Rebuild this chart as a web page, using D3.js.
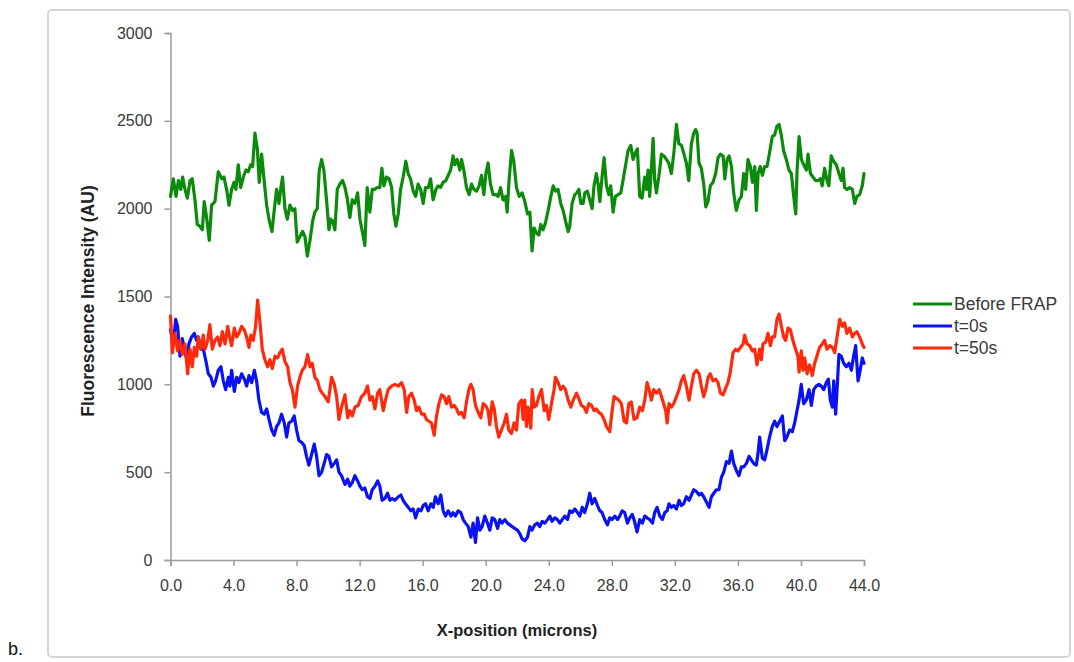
<!DOCTYPE html>
<html>
<head>
<meta charset="utf-8">
<script src="https://cdn.jsdelivr.net/npm/d3@7/dist/d3.min.js"></script>
<style>
  html, body { margin: 0; padding: 0; background: #ffffff; }
  svg { display: block; }
  text { font-family: "Liberation Sans", Arial, sans-serif; fill: #3a3a3a; }
</style>
</head>
<body>
<svg id="chart" width="1074" height="662"></svg>
<script>
// Fluorescence intensity profiles along the bleached line (FRAP experiment)

const seriesNames = ["Before FRAP", "t=0s", "t=50s"];
const seriesColors = ["#0b8a0b", "#0a12f2", "#ff2a0c"];

const xTicks = [0, 4, 8, 12, 16, 20, 24, 28, 32, 36, 40, 44];
const yTicks = [0, 500, 1000, 1500, 2000, 2500, 3000];

// Before FRAP
const beforeX = [
  0.0, 0.18, 0.35, 0.5, 0.65, 0.77, 0.92, 1.07, 1.24, 1.38, 1.55, 1.70, 1.87, 2.02, 2.14, 2.29, 2.46, 2.61, 2.82, 3.03,
  3.25, 3.39, 3.56, 3.71, 3.88, 4.03, 4.15, 4.30, 4.45, 4.62, 4.79, 4.93, 5.09, 5.21, 5.36, 5.51, 5.63, 5.78, 5.93, 6.10,
  6.27, 6.44, 6.58, 6.73, 6.88, 6.99, 7.11, 7.26, 7.41, 7.58, 7.75, 7.89, 8.04, 8.21, 8.38, 8.53, 8.68, 8.85, 9.02, 9.16,
  9.31, 9.44, 9.59, 9.73, 9.90, 10.05, 10.16, 10.29, 10.43, 10.58, 10.75, 10.92, 11.07, 11.21, 11.38, 11.53, 11.70, 11.87, 12.02, 12.19,
  12.33, 12.48, 12.65, 12.80, 12.97, 13.11, 13.28, 13.41, 13.54, 13.71, 13.87, 14.03, 14.17, 14.30, 14.45, 14.60, 14.76, 14.93, 15.08, 15.23,
  15.40, 15.55, 15.71, 15.87, 16.03, 16.18, 16.35, 16.50, 16.66, 16.84, 16.98, 17.13, 17.30, 17.47, 17.62, 17.77, 17.93, 18.04, 18.19, 18.36,
  18.47, 18.61, 18.78, 18.95, 19.10, 19.25, 19.42, 19.58, 19.73, 19.88, 20.01, 20.15, 20.30, 20.47, 20.64, 20.79, 20.94, 21.10, 21.26, 21.36,
  21.48, 21.64, 21.78, 21.95, 22.12,
  22.31, 22.48, 22.65, 22.80, 22.94, 23.07, 23.22, 23.37, 23.49, 23.64, 23.79, 23.96, 24.13, 24.28, 24.42, 24.59, 24.76, 24.91, 25.06, 25.23,
  25.33, 25.48, 25.65, 25.78, 25.91, 26.03, 26.18, 26.29, 26.45, 26.60, 26.75, 26.87, 27.02, 27.13, 27.24, 27.38, 27.51, 27.66, 27.81, 27.93,
  28.08, 28.23, 28.40, 28.57, 28.71, 28.86, 29.03, 29.20, 29.35, 29.50, 29.62, 29.77, 29.92, 30.09, 30.19, 30.30, 30.40, 30.51, 30.62, 30.72,
  30.83, 30.98, 31.15, 31.31, 31.46, 31.61, 31.78, 31.95, 32.10, 32.25, 32.42, 32.58, 32.73, 32.88,
  33.05, 33.20, 33.32, 33.41, 33.53, 33.68, 33.83, 33.96, 34.10, 34.25, 34.42, 34.59, 34.74, 34.89, 35.06, 35.17, 35.31, 35.44, 35.59, 35.73,
  35.90, 36.07, 36.22, 36.37, 36.49, 36.64, 36.79, 36.92, 37.07, 37.17, 37.28, 37.42, 37.55, 37.70, 37.85, 38.01, 38.18, 38.33, 38.48, 38.61,
  38.75, 38.90, 39.07, 39.24, 39.39, 39.54, 39.67, 39.75, 39.88, 40.03, 40.17, 40.34, 40.45, 40.60, 40.76, 40.93, 41.08, 41.23, 41.35, 41.50,
  41.65, 41.77, 41.92, 42.07, 42.24, 42.41, 42.56, 42.67, 42.77, 42.92, 43.09, 43.26, 43.41, 43.55, 43.72, 43.89, 44.0
];
const beforeVals = [
  2070, 2170, 2070, 2160, 2110, 2180, 2110, 2060, 2160, 2170, 2050, 1910, 1900, 1880, 2040, 1950, 1820, 2020, 2040, 2210,
  2170, 2180, 2110, 2020, 2110, 2150, 2110, 2250, 2120, 2180, 2220, 2210, 2250, 2240, 2430, 2340, 2150, 2310, 2170, 2020,
  1930, 1870, 1990, 2110, 2030, 2110, 2180, 2000, 1940, 2020, 1990, 2000, 1810, 1840, 1870, 1840, 1730, 1820, 1930, 1980,
  2000, 2220, 2280, 2220, 2050, 1880, 1940, 1930, 1880, 2110, 2140, 2160, 2120, 2060, 1950, 2050, 2030, 2090, 1940, 1860,
  1790, 2120, 1980, 2110, 2110, 2120, 2120, 2230, 2130, 2180, 2170, 2120, 1970, 1900, 1970, 2110, 2180, 2270, 2200, 2170,
  2100, 2070, 2140, 2110, 2030, 2120, 2120, 2170, 2050, 2110, 2130, 2120, 2150, 2160, 2190, 2220, 2300, 2250, 2280, 2220,
  2280, 2220, 2120, 2080, 2140, 2110, 2100, 2130, 2190, 2080, 2200, 2260, 2140, 2080, 2080, 2070, 2120, 2050, 2070, 1980,
  2160, 2330, 2270, 2120, 2070,
  2090, 2040, 1970, 1980, 1760, 1890, 1860, 1850, 1910, 1880, 1920, 1990, 2070, 2130, 2100, 2110, 2030, 1990, 1930, 1870,
  1900, 2030, 2080, 2090, 2110, 2030, 2030, 2090, 2100, 2050, 2000, 2130, 2200, 2140, 2040, 2180, 2290, 2130, 2080, 2130,
  1980, 2070, 2080, 2090, 2160, 2240, 2330, 2360, 2280, 2320, 2340, 2070, 2060, 2180, 2110, 2220, 2070, 2230, 2400, 2160,
  2090, 2180, 2310, 2300, 2280, 2260, 2200, 2330, 2480, 2370, 2360, 2310, 2260, 2160,
  2370, 2430, 2450, 2430, 2260, 2230, 2140, 2010, 2040, 2130, 2150, 2200, 2290, 2310, 2300, 2170, 2280, 2300, 2240, 2090,
  1990, 2050, 2070, 2200, 2110, 2280, 2240, 2150, 2240, 1990, 2200, 2240, 2190, 2240, 2240, 2320, 2410, 2420, 2470, 2480,
  2420, 2330, 2280, 2220, 2200, 2070, 1970, 2210, 2410, 2280, 2250, 2220, 2310, 2200, 2180, 2160, 2160, 2170, 2130, 2230,
  2160, 2130, 2300, 2270, 2250, 2200, 2160, 2230, 2120, 2110, 2120, 2110, 2030, 2070, 2080, 2130, 2200
];

// t = 0 s (immediately after bleaching)
const t0X = [
  0.0, 0.18, 0.33, 0.45, 0.60, 0.75, 0.88, 1.03, 1.17, 1.34, 1.51, 1.66, 1.76, 1.93, 2.08, 2.23, 2.40, 2.57, 2.72, 2.86,
  3.03, 3.20, 3.35, 3.50, 3.67, 3.77, 3.88, 4.05, 4.20, 4.34, 4.51, 4.68, 4.83, 4.98, 5.15, 5.32, 5.46, 5.61, 5.78, 5.95,
  6.10, 6.25, 6.42, 6.58, 6.73, 6.88, 7.05, 7.22, 7.37, 7.51, 7.68, 7.85, 8.00, 8.15, 8.32, 8.49, 8.63, 8.78, 8.95, 9.12,
  9.27, 9.42, 9.59, 9.75, 9.90, 10.05, 10.22, 10.39, 10.54, 10.69, 10.85, 11.07, 11.24, 11.38, 11.53, 11.70, 11.87, 12.02, 12.16, 12.33,
  12.50, 12.65, 12.80, 12.97, 13.14, 13.28, 13.43, 13.60, 13.77, 13.92, 14.07, 14.24, 14.45,
  14.62, 14.76, 14.91, 15.08, 15.25, 15.40, 15.55, 15.72, 15.89, 16.03, 16.18, 16.35, 16.52, 16.67, 16.81, 16.98, 17.15, 17.30, 17.45, 17.62,
  17.79, 17.93, 18.08, 18.25, 18.42, 18.57, 18.72, 18.89, 19.06, 19.20, 19.35, 19.48, 19.63, 19.77, 19.94, 20.11, 20.26, 20.41, 20.58, 20.75,
  20.89, 21.04, 21.21, 21.38, 21.53, 21.68, 21.84, 22.01, 22.16, 22.31, 22.48, 22.65, 22.80, 22.94, 23.11, 23.28, 23.43, 23.58, 23.75, 23.92,
  24.07, 24.21, 24.38, 24.55, 24.70, 24.85, 25.02, 25.19, 25.33, 25.48, 25.65, 25.82, 25.97, 26.12, 26.28, 26.45, 26.60, 26.75, 26.92, 27.09,
  27.24, 27.38, 27.55, 27.72, 27.87, 28.02, 28.19, 28.36, 28.50, 28.65, 28.82, 28.99, 29.14, 29.29, 29.41,
  29.60, 29.77, 29.94, 30.09, 30.24, 30.41, 30.58, 30.72, 30.87, 31.04, 31.21, 31.36, 31.51, 31.63, 31.78, 31.93, 32.10, 32.27, 32.41, 32.56,
  32.73, 32.90, 33.05, 33.20, 33.37, 33.54, 33.68, 33.83, 34.00, 34.17, 34.32, 34.47, 34.63, 34.80, 34.95, 35.10, 35.27, 35.44, 35.59, 35.73,
  35.90, 36.07, 36.22, 36.37, 36.54, 36.71, 36.85, 37.00, 37.17, 37.28, 37.38, 37.55, 37.70, 37.85, 38.01, 38.18, 38.33, 38.48, 38.65, 38.82,
  38.97, 39.11, 39.28, 39.45, 39.60, 39.75, 39.88, 40.02, 40.17, 40.34, 40.51, 40.66, 40.81, 40.97, 41.14, 41.29, 41.44, 41.61, 41.74, 41.86,
  41.99, 42.08, 42.20, 42.29, 42.41, 42.56, 42.71, 42.88, 43.05, 43.20, 43.34, 43.47, 43.62, 43.72, 43.89, 44.0
];
const t0Vals = [
  1310, 1230, 1370, 1330, 1160, 1260, 1200, 1140, 1230, 1270, 1290, 1250, 1270, 1200, 1200, 1140, 1060, 1040, 990, 1020,
  1080, 1100, 1020, 970, 1040, 990, 1080, 960, 1040, 1010, 1060, 1030, 990, 1050, 1010, 1080, 1020, 910, 840, 830,
  860, 800, 740, 710, 760, 780, 830, 780, 700, 780, 790, 820, 740, 680, 670, 650, 590, 540, 600, 660,
  590, 480, 500, 550, 600, 590, 530, 550, 570, 500, 480, 430, 460, 420, 440, 480, 450, 420, 400, 410,
  360, 350, 400, 420, 450, 420, 340, 350, 380, 340, 350, 340, 360,
  370, 340, 320, 300, 280, 290, 240, 290, 280, 310, 320, 280, 320, 300, 360, 320, 370, 280, 250, 280,
  250, 270, 250, 280, 270, 230, 210, 190, 130, 210, 100, 240, 170, 190, 250, 210, 170, 240, 230, 180,
  230, 210, 230, 210, 200, 190, 180, 170, 150, 120, 110, 130, 190, 170, 200, 210, 190, 220, 210, 230,
  250, 220, 240, 230, 210, 230, 250, 230, 280, 270, 290, 270, 250, 300, 270, 320, 380, 320, 350, 310,
  280, 270, 230, 200, 240, 230, 250, 230, 250, 280, 270, 210, 240, 260, 230,
  160, 230, 210, 250, 240, 230, 210, 270, 300, 250, 230, 270, 280, 320, 300, 310, 290, 340, 310, 320,
  360, 340, 370, 400, 390, 370, 380, 360, 330, 300, 360, 380, 400, 400, 470, 500, 560, 550, 620, 550,
  510, 480, 530, 530, 550, 590, 570, 550, 540, 610, 700, 580, 570, 630, 700, 760, 790, 760, 790, 820,
  680, 700, 740, 730, 780, 850, 910, 1000, 890, 910, 970, 880, 970, 990, 1000, 990, 970, 1010, 1030, 910,
  870, 1020, 830, 970, 1170, 1160, 1120, 1100, 1120, 1080, 1160, 1220, 1020, 1060, 1150, 1120
];

// t = 50 s (recovery)
const t50X = [
  0.0, 0.12, 0.29, 0.45, 0.60, 0.75, 0.92, 1.09, 1.24, 1.38, 1.51, 1.66, 1.76, 1.93, 2.08, 2.19, 2.36, 2.50, 2.65, 2.82,
  2.99, 3.14, 3.29, 3.46, 3.63, 3.77, 3.88, 4.05, 4.20, 4.34, 4.51, 4.68, 4.83, 4.98, 5.10, 5.25, 5.40, 5.53, 5.68, 5.82,
  5.99, 6.16, 6.31, 6.46, 6.63, 6.80, 6.94, 7.09, 7.26, 7.43, 7.58, 7.73, 7.90, 8.06, 8.21, 8.36, 8.53, 8.70, 8.85, 8.99,
  9.16, 9.33, 9.48, 9.63, 9.80, 10.01, 10.22, 10.39, 10.54, 10.69, 10.85, 11.07, 11.24, 11.38, 11.53, 11.70, 11.91, 12.12, 12.33, 12.50,
  12.65, 12.80, 12.97, 13.14, 13.28, 13.50, 13.64, 13.81, 14.02, 14.24, 14.45,
  14.66, 14.83, 14.98, 15.12, 15.29, 15.46, 15.61, 15.76, 15.93, 16.10, 16.24, 16.39, 16.56, 16.73, 16.88, 17.03, 17.20, 17.36, 17.51, 17.66,
  17.83, 18.00, 18.15, 18.29, 18.46, 18.63, 18.78, 18.93, 19.06, 19.20, 19.35, 19.52, 19.69, 19.84, 19.99, 20.15, 20.26, 20.41, 20.54, 20.68,
  20.83, 21.00, 21.17, 21.32, 21.46, 21.63, 21.80, 21.95, 22.10, 22.27, 22.37, 22.48, 22.58, 22.69, 22.86, 22.95, 23.07, 23.22, 23.37, 23.54,
  23.71, 23.85, 24.00, 24.17, 24.34, 24.42, 24.59, 24.76, 24.91, 25.06, 25.23, 25.40, 25.55, 25.76, 25.90, 26.07, 26.24, 26.39, 26.54, 26.71,
  26.88, 27.02, 27.17, 27.34, 27.51, 27.66, 27.87, 28.02, 28.14, 28.29, 28.44, 28.61, 28.78, 28.93, 29.08, 29.24, 29.41,
  29.60, 29.77, 29.94, 30.09, 30.24, 30.37, 30.51, 30.66, 30.83, 31.00, 31.15, 31.29, 31.42, 31.51, 31.63, 31.78, 31.93, 32.10, 32.27, 32.41,
  32.56, 32.73, 32.90, 33.05, 33.20, 33.37, 33.54, 33.68, 33.83, 33.96, 34.11, 34.25, 34.42, 34.59, 34.74, 34.89, 35.06, 35.23, 35.37, 35.52,
  35.69, 35.86, 36.01, 36.16, 36.33, 36.43, 36.58, 36.75, 36.92, 37.07, 37.21, 37.38, 37.49, 37.59, 37.76, 37.91, 38.06, 38.19, 38.33, 38.48,
  38.61, 38.76, 38.90, 39.03, 39.18, 39.33, 39.49, 39.66, 39.81, 39.88, 40.02, 40.13, 40.24, 40.39, 40.55, 40.72, 40.87, 41.01, 41.18, 41.35,
  41.50, 41.65, 41.82, 41.99, 42.14, 42.29, 42.46, 42.63, 42.77, 42.92, 43.09, 43.26, 43.41, 43.55, 43.72, 43.89, 44.0
];
const t50Vals = [
  1390, 1180, 1290, 1190, 1250, 1170, 1230, 1060, 1200, 1100, 1210, 1160, 1270, 1200, 1280, 1200, 1250, 1340, 1200, 1250,
  1270, 1220, 1300, 1230, 1330, 1260, 1220, 1320, 1270, 1290, 1330, 1310, 1270, 1210, 1280, 1250, 1330, 1480, 1350, 1200,
  1140, 1100, 1140, 1090, 1160, 1150, 1180, 1200, 1130, 1100, 1010, 970, 870, 990, 1040, 1080, 1100, 1170, 1100, 1120,
  1040, 1020, 970, 950, 930, 900, 1040, 1000, 930, 800, 870, 940, 810, 850, 820, 870, 880, 930, 950, 990,
  910, 930, 860, 950, 970, 850, 910, 970, 990, 1000, 990,
  1010, 970, 840, 930, 950, 910, 850, 870, 830, 830, 800, 790, 780, 710, 820, 890, 940, 930, 890, 930,
  870, 880, 860, 830, 840, 810, 900, 970, 1000, 970, 880, 840, 810, 890, 880, 850, 770, 900, 860, 760,
  700, 740, 780, 830, 740, 720, 780, 740, 890, 910, 800, 910, 760, 870, 750, 970, 870, 880, 930, 970,
  850, 880, 800, 890, 970, 1040, 1010, 970, 990, 970, 910, 870, 910, 950, 920, 880, 870, 840, 890, 880,
  850, 860, 840, 830, 800, 760, 730, 850, 930, 920, 910, 890, 790, 780, 890, 900, 800,
  810, 870, 850, 910, 1010, 970, 910, 970, 950, 970, 930, 890, 850, 780, 890, 870, 890, 930, 970, 1020,
  1050, 990, 910, 990, 1060, 1080, 1060, 990, 930, 970, 1040, 1060, 1020, 1030, 1010, 950, 940, 980, 1010, 1070,
  1180, 1200, 1190, 1210, 1230, 1280, 1230, 1220, 1190, 1200, 1110, 1200, 1140, 1230, 1240, 1290, 1220, 1270, 1270, 1370,
  1400, 1330, 1270, 1250, 1320, 1310, 1250, 1200, 1160, 1070, 1190, 1080, 1150, 1060, 1110, 1050, 1120, 1160, 1210, 1230,
  1250, 1200, 1220, 1210, 1180, 1270, 1370, 1330, 1350, 1290, 1320, 1270, 1290, 1300, 1270, 1230, 1210
];

const series = [
  { name: seriesNames[0], color: seriesColors[0], xs: beforeX, vs: beforeVals },
  { name: seriesNames[1], color: seriesColors[1], xs: t0X, vs: t0Vals },
  { name: seriesNames[2], color: seriesColors[2], xs: t50X, vs: t50Vals }
];

const svg = d3.select("#chart");

// figure frame
svg.append("rect")
  .attr("x", 48).attr("y", 10).attr("width", 1022).attr("height", 647)
  .attr("rx", 4).attr("ry", 4)
  .attr("fill", "#ffffff").attr("stroke", "#d6d6d6").attr("stroke-width", 2);

svg.append("text")
  .attr("x", 8).attr("y", 655)
  .style("font-size", "18px").style("fill", "#111")
  .text("b.");

const x = d3.scaleLinear().domain([0, 44]).range([170.5, 864]);
const y = d3.scaleLinear().domain([0, 3000]).range([560, 33]);

const axisColor = "#9c9c9c";

// y axis
const yAxis = svg.append("g")
  .attr("transform", `translate(${x(0)},0)`)
  .call(d3.axisLeft(y).tickValues(yTicks).tickSize(6).tickPadding(12).tickFormat(d3.format("d")));
yAxis.select(".domain").attr("stroke", axisColor).attr("stroke-width", 1.5);
yAxis.selectAll(".tick line").attr("stroke", axisColor).attr("stroke-width", 1.5);
yAxis.selectAll(".tick text")
  .style("font-size", "16px").style("font-family", "'Liberation Sans', Arial, sans-serif").attr("fill", "#3a3a3a");

// x axis
const xAxis = svg.append("g")
  .attr("transform", `translate(0,${y(0)})`)
  .call(d3.axisBottom(x).tickValues(xTicks).tickSize(6).tickPadding(14).tickFormat(d3.format(".1f")));
xAxis.select(".domain").attr("stroke", axisColor).attr("stroke-width", 1.5);
xAxis.selectAll(".tick line").attr("stroke", axisColor).attr("stroke-width", 1.5);
xAxis.selectAll(".tick text")
  .style("font-size", "16px").style("font-family", "'Liberation Sans', Arial, sans-serif").attr("fill", "#3a3a3a");

// axis titles
svg.append("text")
  .attr("x", 517).attr("y", 636)
  .attr("text-anchor", "middle")
  .style("font-size", "16.5px").style("font-weight", "bold").style("fill", "#222")
  .text("X-position (microns)");

svg.append("text")
  .attr("transform", "translate(94,301) rotate(-90)")
  .attr("text-anchor", "middle")
  .style("font-size", "17.5px").style("font-weight", "bold").style("fill", "#222")
  .text("Fluorescence Intensity (AU)");

// profiles
const line = d3.line()
  .x(d => x(d[0]))
  .y(d => y(d[1]));

svg.append("g").selectAll("path")
  .data(series)
  .join("path")
  .attr("d", s => line(s.xs.map((xv, i) => [xv, s.vs[i]])))
  .attr("fill", "none")
  .attr("stroke", s => s.color)
  .attr("stroke-width", 3.2)
  .attr("stroke-linejoin", "round")
  .attr("stroke-linecap", "round");

// legend
const legend = svg.append("g").attr("transform", "translate(913,304)");
const rows = legend.selectAll("g")
  .data(series)
  .join("g")
  .attr("transform", (d, i) => `translate(0,${i * 22})`);
rows.append("line")
  .attr("x1", 0).attr("x2", 39).attr("y1", 0).attr("y2", 0)
  .attr("stroke", d => d.color).attr("stroke-width", 3);
rows.append("text")
  .attr("x", 41).attr("y", 0).attr("dy", "0.35em")
  .style("font-size", "17.5px")
  .text(d => d.name);
</script>
</body>
</html>
